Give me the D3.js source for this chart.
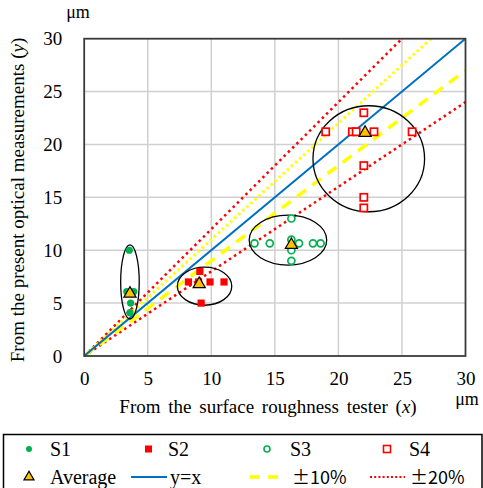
<!DOCTYPE html>
<html><head><meta charset="utf-8">
<script src="https://cdn.jsdelivr.net/npm/d3@7"></script>
<style>body{margin:0;background:#fff}svg{display:block}
.serif{font-family:"Liberation Serif","Tinos","Times New Roman","DejaVu Serif",serif}
</style>
</head><body>
<script>
const xTicks = [0,5,10,15,20,25,30];
const yTicks = [0,5,10,15,20,25,30];
const s1 = [[3.55,10],[3.35,6.1],[3.9,6.1],[3.65,5],[3.6,4.1]];
const s2 = [[8.2,7],[9.0,7],[9.1,8],[9.9,7],[11.0,7],[9.2,5]];
const s3 = [[16.3,13],[13.4,10.65],[14.6,10.65],[16.3,11],[16.9,10.65],[18.0,10.65],[18.6,10.65],[16.3,10],[16.3,9]];
const s4 = [[22.0,23],[19.0,21.2],[21.1,21.2],[21.4,21.2],[22.8,21.2],[25.8,21.2],[22.0,18],[22.0,15],[22.0,14]];
const avg = [[3.6,5.9],[9.05,6.8],[16.3,10.5],[22.1,21.1]];
// ellipses: cx, cy, rx, ry (data units)
const ellipses = [[3.6,7.0,0.73,3.5],[9.47,6.6,2.14,1.8],[16.03,10.96,3.05,2.36],[22.39,18.65,4.39,5.01]];
const refLines = [
  {name:"y=x", k:1.0},
  {name:"+10%", k:1.1},
  {name:"-10%", k:0.9},
  {name:"+20%", k:1.2},
  {name:"-20%", k:0.8}
];

const W=483,H=488;
const svg=d3.select("body").append("svg").attr("width",W).attr("height",H);
const L=84.2,R=465.5,T=38.7,B=356;
const x=d3.scaleLinear().domain([0,30]).range([L,R]);
const y=d3.scaleLinear().domain([0,30]).range([B,T]);

// grid
svg.append("g").selectAll("line.gx").data(xTicks.slice(1,-1)).join("line")
  .attr("x1",d=>x(d)).attr("x2",d=>x(d)).attr("y1",T).attr("y2",B)
  .attr("stroke","#d0d0d0").attr("stroke-width",1.5);
svg.append("g").selectAll("line.gy").data(yTicks.slice(1,-1)).join("line")
  .attr("y1",d=>y(d)).attr("y2",d=>y(d)).attr("x1",L).attr("x2",R)
  .attr("stroke","#d0d0d0").attr("stroke-width",1.5);

// axes via d3 (no tick marks)
const xa=svg.append("g").attr("transform",`translate(0,${B})`)
  .call(d3.axisBottom(x).tickValues(xTicks).tickSize(0).tickPadding(16));
const ya=svg.append("g").attr("transform",`translate(${L},0)`)
  .call(d3.axisLeft(y).tickValues(yTicks).tickSize(0).tickPadding(22));
[xa,ya].forEach(a=>{a.select(".domain").remove(); a.attr("font-family",null).attr("class","serif");
  a.selectAll("text").attr("font-size",19).attr("fill","#000");});

// clip
svg.append("clipPath").attr("id","clip").append("rect").attr("x",L).attr("y",T).attr("width",R-L).attr("height",B-T);
const plot=svg.append("g").attr("clip-path","url(#clip)");

const styles={
  "y=x":{c:"#0070C0",w:2,d:null},
  "+10%":{c:"#FFFF00",w:3,d:"2.5 3"},
  "-10%":{c:"#FFFF00",w:3.5,d:"11 8"},
  "+20%":{c:"#FF0000",w:2.5,d:"2.5 3.5"},
  "-20%":{c:"#FF0000",w:2.5,d:"2.5 3.5"}
};
const drawOrder=["+20%","-20%","+10%","-10%","y=x"];
drawOrder.forEach(n=>{
  const r=refLines.find(e=>e.name===n), s=styles[n];
  const line=d3.line().x(d=>x(d)).y(d=>y(r.k*d));
  plot.append("path").datum([0,30]).attr("d",line).attr("fill","none")
    .attr("stroke",s.c).attr("stroke-width",s.w).attr("stroke-dasharray",s.d);
});

// ellipses
plot.selectAll("ellipse").data(ellipses).join("ellipse")
  .attr("cx",d=>x(d[0])).attr("cy",d=>y(d[1]))
  .attr("rx",d=>x(d[2])-x(0)).attr("ry",d=>y(0)-y(d[3]))
  .attr("fill","none").attr("stroke","#000").attr("stroke-width",1.3);

// markers
const g=svg.append("g");
g.selectAll("circle.s3").data(s3).join("circle").attr("cx",d=>x(d[0])).attr("cy",d=>y(d[1])).attr("r",3.5)
  .attr("fill","#fff").attr("stroke","#00B050").attr("stroke-width",1.7);
g.selectAll("circle.s1").data(s1).join("circle").attr("cx",d=>x(d[0])).attr("cy",d=>y(d[1])).attr("r",3.6)
  .attr("fill","#00B050");
g.selectAll("rect.s4").data(s4).join("rect").attr("x",d=>x(d[0])-3.6).attr("y",d=>y(d[1])-3.6)
  .attr("width",7.2).attr("height",7.2).attr("fill","#fff").attr("stroke","#FF0000").attr("stroke-width",1.7);
g.selectAll("rect.s2").data(s2).join("rect").attr("x",d=>x(d[0])-3.6).attr("y",d=>y(d[1])-3.6)
  .attr("width",7.2).attr("height",7.2).attr("fill","#FF0000");
const tri=d3.symbol().type(d3.symbolTriangle).size(64);
g.selectAll("path.avg").data(avg).join("path").attr("d",tri)
  .attr("transform",d=>`translate(${x(d[0])},${y(d[1])})`)
  .attr("fill","#FFC000").attr("stroke","#000").attr("stroke-width",1.2);

// frame
svg.append("rect").attr("x",L).attr("y",T).attr("width",R-L).attr("height",B-T)
  .attr("fill","none").attr("stroke","#3a3a3a").attr("stroke-width",1.8);

// titles
svg.append("text").attr("class","serif").attr("x",268).attr("y",413).attr("text-anchor","middle")
  .attr("font-size",19).attr("word-spacing",3)
  .html("From the surface roughness tester (<tspan font-style='italic'>x</tspan>)");
svg.append("text").attr("class","serif").attr("transform","translate(24,200) rotate(-90)").attr("text-anchor","middle")
  .attr("font-size",19)
  .html("From the present optical measurements (<tspan font-style='italic'>y</tspan>)");
svg.append("text").attr("class","serif").attr("x",467).attr("y",405).attr("text-anchor","middle").attr("font-size",18).text("μm");
svg.append("text").attr("class","serif").attr("x",78).attr("y",18).attr("text-anchor","middle").attr("font-size",18).text("μm");

// legend
const lg=svg.append("g");
lg.append("rect").attr("x",3.5).attr("y",434.5).attr("width",478.5).attr("height",60)
  .attr("fill","#fff").attr("stroke","#000").attr("stroke-width",1.5);
const r1=449, r2=477;
lg.append("circle").attr("cx",29).attr("cy",r1).attr("r",3).attr("fill","#00B050");
lg.append("rect").attr("x",145).attr("y",r1-3.5).attr("width",7).attr("height",7).attr("fill","#FF0000");
lg.append("circle").attr("cx",267).attr("cy",r1).attr("r",3).attr("fill","#fff").attr("stroke","#00B050").attr("stroke-width",1.6);
lg.append("rect").attr("x",383.5).attr("y",r1-3.5).attr("width",7).attr("height",7).attr("fill","#fff").attr("stroke","#FF0000").attr("stroke-width",1.6);
lg.append("path").attr("d",d3.symbol().type(d3.symbolTriangle).size(44)).attr("transform",`translate(29,${r2})`).attr("fill","#FFC000").attr("stroke","#000").attr("stroke-width",1.2);
lg.append("line").attr("x1",131).attr("x2",167).attr("y1",r2).attr("y2",r2).attr("stroke","#0070C0").attr("stroke-width",2);
lg.append("line").attr("x1",250).attr("x2",286).attr("y1",r2).attr("y2",r2).attr("stroke","#FFFF00").attr("stroke-width",3.5).attr("stroke-dasharray","10 8");
lg.append("line").attr("x1",370).attr("x2",405).attr("y1",r2).attr("y2",r2).attr("stroke","#FF0000").attr("stroke-width",2).attr("stroke-dasharray","2 2.2");
const lt=[["S1",50,r1],["S2",168,r1],["S3",290,r1],["S4",409,r1],["Average",50,r2],["y=x",170,r2]];
lg.selectAll("text.l").data(lt).join("text").attr("class","serif").attr("x",d=>d[1]).attr("y",d=>d[2]+6.5)
  .attr("font-size",20).text(d=>d[0]);
const cjk="'Noto Sans CJK JP','Noto Sans',sans-serif";
lg.append("text").attr("x",292).attr("y",r2+7).attr("font-family",cjk).attr("font-size",18).text("±10%");
lg.append("text").attr("x",410).attr("y",r2+7).attr("font-family",cjk).attr("font-size",18).text("±20%");
</script>
</body></html>
